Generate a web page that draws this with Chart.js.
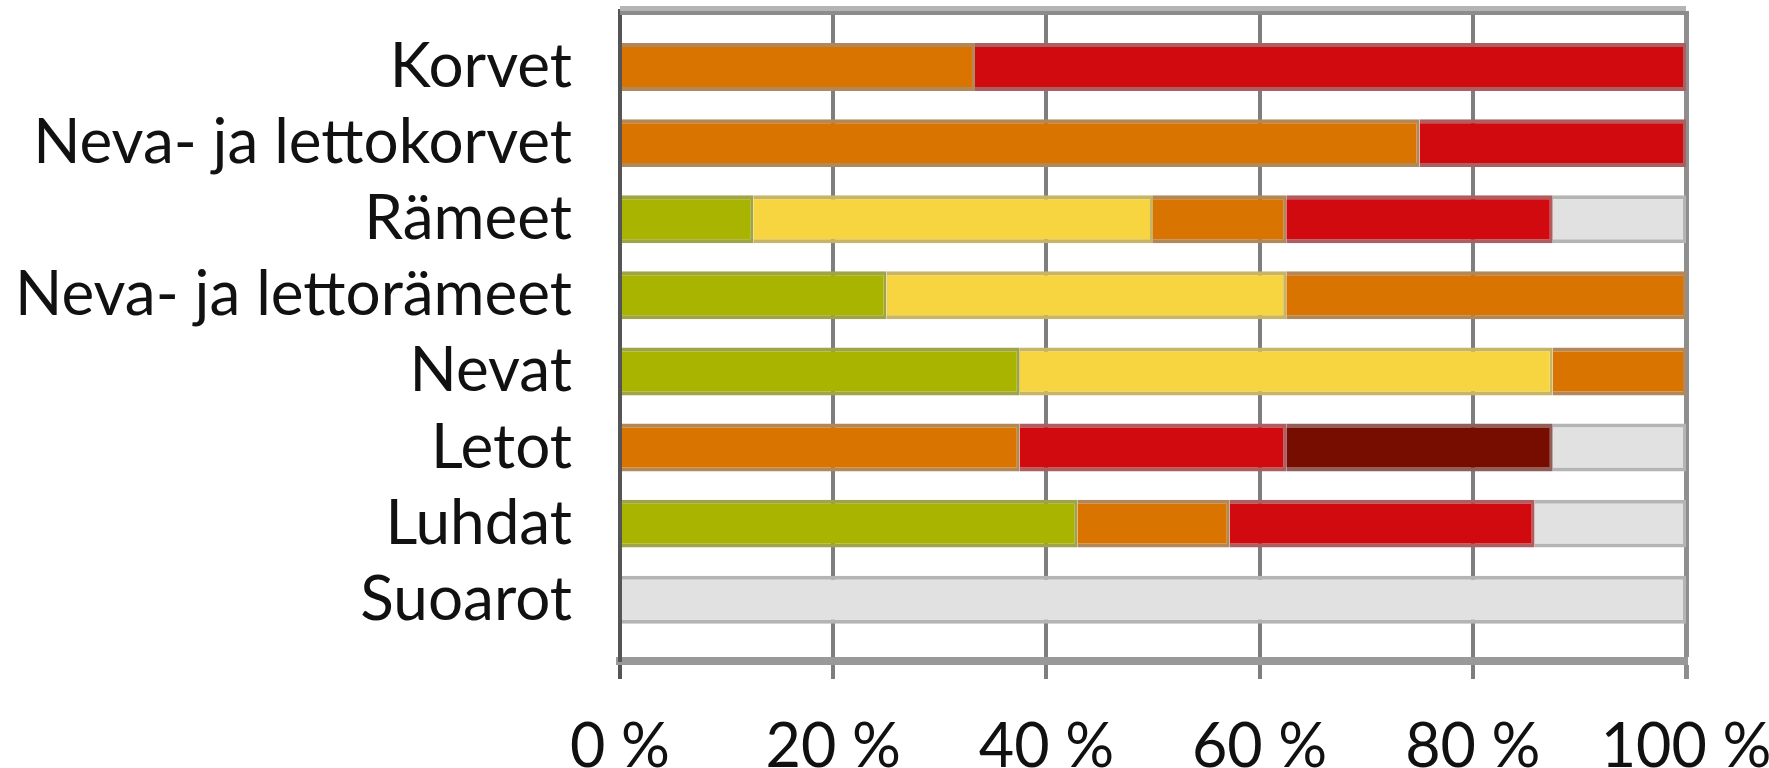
<!DOCTYPE html>
<html>
<head>
<meta charset="utf-8">
<script src="https://cdn.jsdelivr.net/npm/chart.js@4/dist/chart.umd.min.js"></script>
<style>
  html, body { margin: 0; padding: 0; background: #fff; }
  #wrap { width: 1769px; height: 768px; position: relative; }
</style>
</head>
<body>
<div id="wrap"><canvas id="chart"></canvas></div>
<script>
const labels = ['Korvet', 'Neva- ja lettokorvet', 'Rämeet', 'Neva- ja lettorämeet', 'Nevat', 'Letot', 'Luhdat', 'Suoarot']
const xTicks = [0, 20, 40, 60, 80, 100]

// shares in %, left to right
const lc = [0, 0, 12.5, 25, 37.5, 0, 42.9, 0]
const nt = [0, 0, 37.5, 37.5, 50, 0, 0, 0]
const vu = [33.3, 75, 12.5, 37.5, 12.5, 37.5, 14.3, 0]
const en = [66.7, 25, 25, 0, 0, 25, 28.6, 0]
const cr = [0, 0, 0, 0, 0, 25, 0, 0]
const dd = [0, 0, 12.5, 0, 0, 12.5, 14.2, 100]

Chart.defaults.font.family = 'Lato'
Chart.defaults.color = '#111'

function series(label, values, fill, edge) {
    return {
        label: label,
        data: values.map((v, i) => ({ x: v || null, y: i })),
        backgroundColor: fill,
        borderColor: edge,
        borderWidth: { top: 4, bottom: 4, left: 0, right: 3 },
        borderSkipped: false,
        barPercentage: 0.63,
        categoryPercentage: 1
    }
}

// no automatic padding from the tick labels, the frame is placed by hand
function noPad(s) {
    s.paddingTop = s.paddingBottom = s.paddingLeft = s.paddingRight = 0
}

const topLine = {
    id: 'topLine',
    beforeDatasetsDraw(chart) {
        const { ctx, chartArea: a } = chart
        ctx.save()
        ctx.fillStyle = '#b4b4b4'
        ctx.fillRect(a.left, a.top - 5, a.right - a.left, 5)
        ctx.fillStyle = '#8c8c8c'
        ctx.fillRect(a.left, a.top, a.right - a.left, 4)
        ctx.restore()
    }
}

new Chart(document.getElementById('chart'), {
    type: 'bar',
    data: {
        datasets: [
            series('LC', lc, '#a9b400', '#a0a448'),
            series('NT', nt, '#f7d540', '#c8b466'),
            series('VU', vu, '#da7400', '#b2885a'),
            series('EN', en, '#d10a10', '#ad5e60'),
            series('CR', cr, '#770c00', '#8f5f5a'),
            series('DD', dd, '#e1e1e1', '#b4b4b4')
        ]
    },
    options: {
        indexAxis: 'y',
        responsive: true,
        maintainAspectRatio: false,
        animation: false,
        layout: { autoPadding: false, padding: { top: 11, right: 83, bottom: 0, left: 0 } },
        plugins: {
            legend: { display: false },
            tooltip: { enabled: false }
        },
        scales: {
            x: {
                type: 'linear',
                stacked: true,
                min: 0,
                max: 100,
                afterBuildTicks: s => { s.ticks = xTicks.map(v => ({ value: v })) },
                afterFit: s => { s.height = 107; noPad(s) },
                grid: {
                    color: c => c.tick && c.tick.value === 0 ? '#555' : (c.tick && c.tick.value === 100 ? '#8e8e8e' : '#7e7e7e'),
                    lineWidth: c => c.tick && c.tick.value === 100 ? 5 : 4,
                    tickLength: 18
                },
                border: { display: true, color: '#999', width: 8 },
                ticks: {
                    padding: 32,
                    maxRotation: 0,
                    font: { size: 61 },
                    color: '#111',
                    callback: v => v + ' %'
                }
            },
            y: {
                type: 'linear',
                stacked: true,
                reverse: true,
                offset: false,
                min: -0.736,
                max: 7.805,
                afterBuildTicks: s => { s.ticks = labels.map((l, i) => ({ value: i })) },
                afterFit: s => { s.width = 620; noPad(s) },
                grid: { display: false, drawTicks: false, offset: false },
                border: { display: true, color: '#555', width: 4 },
                ticks: {
                    autoSkip: false,
                    padding: 48,
                    font: { size: 62 },
                    color: '#111',
                    callback: v => labels[v]
                }
            }
        }
    },
    plugins: [topLine]
})
</script>
</body>
</html>
